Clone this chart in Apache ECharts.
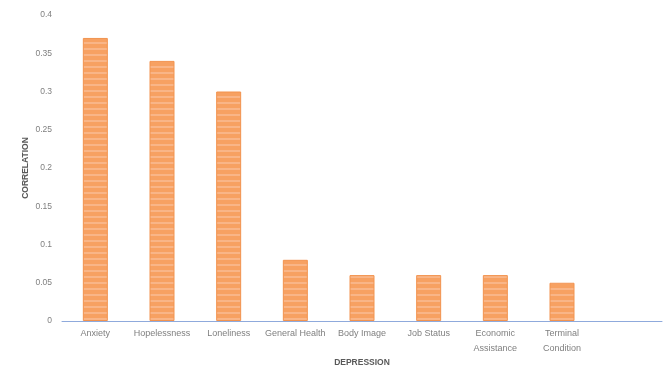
<!DOCTYPE html>
<html>
<head>
<meta charset="utf-8">
<script src="https://cdn.jsdelivr.net/npm/echarts@6/dist/echarts.min.js"></script>
<style>html,body{margin:0;padding:0;background:#fff}#c{width:664px;height:369px}</style>
</head>
<body>
<div id="c"></div>
<script>
// Factors and their correlation with depression
const categories = ['Anxiety', 'Hopelessness', 'Loneliness', 'General Health', 'Body Image', 'Job Status', 'Economic\nAssistance', 'Terminal\nCondition', ''];
const correlation = [0.37, 0.34, 0.30, 0.08, 0.06, 0.06, 0.06, 0.05, '-'];
const yTicks = [0, 0.05, 0.1, 0.15, 0.2, 0.25, 0.3, 0.35, 0.4];

// striped orange fill for the bars
function stripeFill() {
  const cv = document.createElement('canvas');
  cv.width = 8; cv.height = 6;
  const g = cv.getContext('2d');
  g.fillStyle = '#F7A162';
  g.fillRect(0, 0, 8, 6);
  g.fillStyle = '#F9B587';
  g.fillRect(0, 0, 8, 2);
  return { image: cv, repeat: 'repeat' };
}

const chart = echarts.init(document.getElementById('c'), null, { renderer: 'canvas' });
chart.setOption({
  animation: false,
  grid: { left: 62, right: 2, top: 15, bottom: 48, containLabel: false, outerBoundsMode: 'none' },
  xAxis: {
    type: 'category',
    data: categories,
    name: 'DEPRESSION',
    nameLocation: 'middle',
    nameGap: 37,
    nameMoveOverlap: false,
    nameTextStyle: { fontSize: 8.5, fontWeight: 'bold', color: '#595959', fontFamily: 'Liberation Sans' },
    axisLine: { lineStyle: { color: '#8FAADC', width: 1 } },
    axisTick: { show: false },
    axisLabel: { fontSize: 9, color: '#7F7F7F', margin: 5, interval: 0, lineHeight: 15, fontFamily: 'Liberation Sans' }
  },
  yAxis: {
    type: 'value',
    min: 0, max: 0.4, interval: 0.05,
    name: 'CORRELATION',
    nameLocation: 'middle',
    nameGap: 32,
    nameMoveOverlap: false,
    nameRotate: 90,
    nameTextStyle: { fontSize: 8.5, fontWeight: 'bold', color: '#595959', fontFamily: 'Liberation Sans' },
    splitLine: { show: false },
    axisLine: { show: false },
    axisTick: { show: false },
    axisLabel: {
      fontSize: 8.5, color: '#7F7F7F', margin: 10, fontFamily: 'Liberation Sans',
      formatter: v => { const t = yTicks.find(x => Math.abs(x - v) < 1e-9); return t === undefined ? '' : String(t); }
    }
  },
  series: [{
    type: 'bar',
    data: correlation,
    barWidth: 25,
    itemStyle: { color: stripeFill(), borderColor: '#F2934F', borderWidth: 1 }
  }]
});
</script>
</body>
</html>
